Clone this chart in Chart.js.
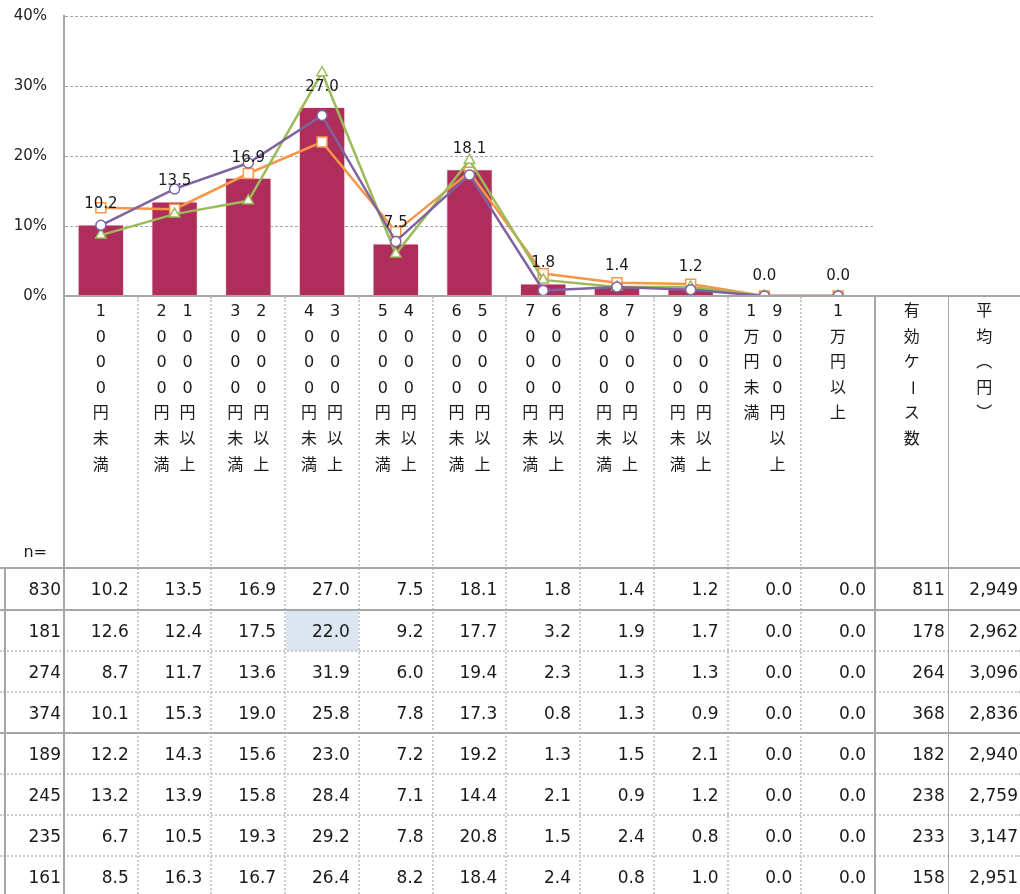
<!DOCTYPE html>
<html>
<head>
<meta charset="utf-8">
<script src="https://cdn.jsdelivr.net/npm/chart.js@4.4.1/dist/chart.umd.min.js"></script>
<style>
    html, body { margin: 0; padding: 0; background: #fff; overflow: hidden; }
    #wrap { position: relative; width: 1020px; height: 894px; font-family: "DejaVu Sans", "Noto Sans CJK JP", sans-serif; color: #1a1a1a; }
    #chartBox { position: absolute; left: 0; top: 0; width: 1020px; height: 330px; }
    #table { position: absolute; left: 0; top: 0; width: 1020px; height: 894px; pointer-events: none; }
    .num { font-size: 17px; text-align: right; box-sizing: border-box; }
    .hdr { display: flex; flex-direction: row-reverse; justify-content: center; }
    .hcol { width: 26px; display: flex; flex-direction: column; }
    .hch { height: 25.6px; line-height: 25.6px; text-align: center; font-size: 16px; }
    .rot { display: inline-block; transform: rotate(90deg); }
</style>
</head>
<body>
<div id="wrap">
    <div id="chartBox"><canvas id="priceChart" width="1020" height="330"></canvas></div>
    <div id="table"></div>
</div>
<script>
    // categories and header labels
    const categories = ['1000円未満', '1000円以上2000円未満', '2000円以上3000円未満', '3000円以上4000円未満',
        '4000円以上5000円未満', '5000円以上6000円未満', '6000円以上7000円未満', '7000円以上8000円未満',
        '8000円以上9000円未満', '9000円以上1万円未満', '1万円以上'];
    const extraHeaders = ['有効ケース数', '平均（円）'];

    // shares (%) per row of the table; first four rows are plotted
    const totalShares  = [10.2, 13.5, 16.9, 27.0, 7.5, 18.1, 1.8, 1.4, 1.2, 0.0, 0.0];
    const orangeShares = [12.6, 12.4, 17.5, 22.0, 9.2, 17.7, 3.2, 1.9, 1.7, 0.0, 0.0];
    const greenShares  = [8.7, 11.7, 13.6, 31.9, 6.0, 19.4, 2.3, 1.3, 1.3, 0.0, 0.0];
    const purpleShares = [10.1, 15.3, 19.0, 25.8, 7.8, 17.3, 0.8, 1.3, 0.9, 0.0, 0.0];
    const row5Shares   = [12.2, 14.3, 15.6, 23.0, 7.2, 19.2, 1.3, 1.5, 2.1, 0.0, 0.0];
    const row6Shares   = [13.2, 13.9, 15.8, 28.4, 7.1, 14.4, 2.1, 0.9, 1.2, 0.0, 0.0];
    const row7Shares   = [6.7, 10.5, 19.3, 29.2, 7.8, 20.8, 1.5, 2.4, 0.8, 0.0, 0.0];
    const row8Shares   = [8.5, 16.3, 16.7, 26.4, 8.2, 18.4, 2.4, 0.8, 1.0, 0.0, 0.0];

    const sampleSizes = [830, 181, 274, 374, 189, 245, 235, 161];
    const validCases  = [811, 178, 264, 368, 182, 238, 233, 158];
    const averageYen  = [2949, 2962, 3096, 2836, 2940, 2759, 3147, 2951];

    const yTicks = [0, 10, 20, 30, 40];

    // wanted plot box (px)
    const plotTop = 16, plotBottom = 296, plotLeft = 64, plotRight = 875;

    // labels over the bars
    const barLabels = {
        id: 'barLabels',
        afterDatasetsDraw(chart) {
            const meta = chart.getDatasetMeta(3);
            const ctx = chart.ctx;
            ctx.save();
            ctx.font = '15px "DejaVu Sans"';
            ctx.fillStyle = '#1a1a1a';
            ctx.textAlign = 'center';
            ctx.textBaseline = 'middle';
            meta.data.forEach((bar, i) => ctx.fillText(totalShares[i].toFixed(1), bar.x, bar.y - 20));
            ctx.restore();
        }
    };

    const lineStyle = color => ({
        type: 'line',
        borderColor: color,
        borderWidth: 2.5,
        pointBackgroundColor: '#fff',
        pointBorderColor: color,
        pointBorderWidth: 1.5,
        tension: 0
    });

    const ctx = document.getElementById('priceChart').getContext('2d');
    const chart = new Chart(ctx, {
        data: {
            labels: categories,
            datasets: [
                { ...lineStyle('#7F63A1'), data: purpleShares, pointStyle: 'circle', pointRadius: 5, order: 1 },
                { ...lineStyle('#9BBB59'), data: greenShares, pointStyle: 'triangle', pointRadius: 6, order: 2 },
                { ...lineStyle('#F79646'), data: orangeShares, pointStyle: 'rect', pointRadius: 7, order: 3 },
                {
                    type: 'bar',
                    data: totalShares,
                    backgroundColor: '#AE2D5A',
                    borderColor: 'rgba(255,220,235,0.7)',
                    borderWidth: 1,
                    barPercentage: 0.63,
                    categoryPercentage: 1,
                    order: 4
                }
            ]
        },
        options: {
            responsive: false,
            animation: false,
            layout: { padding: { left: 0, right: 1020 - plotRight, top: plotTop, bottom: 330 - plotBottom } },
            plugins: { legend: { display: false }, tooltip: { enabled: false } },
            scales: {
                x: { display: false },
                y: {
                    min: 0,
                    max: 40,
                    afterFit: s => { s.width = plotLeft; s.paddingTop = 0; s.paddingBottom = 0; },
                    afterBuildTicks: s => { s.ticks = yTicks.map(v => ({ value: v })); },
                    grid: { color: '#a6a6a6', lineWidth: 1, drawTicks: false },
                    border: { color: '#a6a6a6', width: 2, dash: [3, 2] },
                    ticks: {
                        padding: 17,
                        color: '#222',
                        font: { family: 'DejaVu Sans', size: 15 },
                        callback: v => v + '%'
                    }
                }
            }
        },
        plugins: [barLabels]
    });

    // nudge the padding so the plot box lands where the table expects it
    const pad = chart.options.layout.padding;
    pad.top += plotTop - chart.chartArea.top;
    pad.bottom += chart.chartArea.bottom - plotBottom;
    pad.right += chart.chartArea.right - plotRight;
    chart.update();

    // ---- table under the chart ----
    const overlay = document.getElementById('table');
    function box(css, html) {
        const d = document.createElement('div');
        d.style.cssText = 'position:absolute;' + css;
        if (html != null) d.innerHTML = html;
        overlay.appendChild(d);
        return d;
    }
    const area = chart.chartArea;
    const colW = (area.right - area.left) / categories.length;
    const edges = categories.map((c, i) => chart.scales.x.getPixelForValue(i) - colW / 2);
    edges.push(area.right, area.right + colW, 1020);

    const headTop = 297;
    const rowTops = [568, 610, 651, 692, 733, 774, 815, 856];
    const rowH = 41;
    const tableRows = [totalShares, orangeShares, greenShares, purpleShares, row5Shares, row6Shares, row7Shares, row8Shares];

    // highlighted cell
    box(`left:${edges[3] + 1}px;top:${rowTops[1] + 1}px;width:${edges[4] - edges[3] - 2}px;height:${rowTops[2] - rowTops[1] - 1}px;background:#dce6f0;`);

    // header texts
    const charHtml = ch => {
        if (ch === '（') return '︵';
        if (ch === '）') return '︶';
        if (ch === 'ー') return '<span class="rot">ー</span>';
        return ch;
    };
    categories.concat(extraHeaders).forEach((label, i) => {
        const cols = label.match(/.+?(未満|以上)/g) || [label];
        const cell = box(`left:${edges[i]}px;top:${headTop + 1}px;width:${edges[i + 1] - edges[i]}px;`);
        cell.className = 'hdr';
        cols.forEach(col => {
            const c = document.createElement('div');
            c.className = 'hcol';
            c.innerHTML = [...col].map(ch => `<div class="hch">${charHtml(ch)}</div>`).join('');
            cell.appendChild(c);
        });
    });
    box('left:0;top:539px;width:47px;height:26px;line-height:26px;text-align:right;font-size:16px;', 'n=');

    // body rows
    tableRows.forEach((row, r) => {
        const top = rowTops[r];
        const cellCss = (x0, x1, pad) =>
            `left:${x0}px;top:${top}px;width:${x1 - x0}px;height:${rowH}px;line-height:${rowH + 2}px;padding-right:${pad}px;`;
        box(cellCss(0, 64, 3), sampleSizes[r]).className = 'num';
        row.forEach((v, i) => { box(cellCss(edges[i], edges[i + 1], 9), v.toFixed(1)).className = 'num'; });
        box(cellCss(edges[11], edges[12], 4), validCases[r]).className = 'num';
        box(cellCss(edges[12], edges[13], 2), averageYen[r].toLocaleString('en-US')).className = 'num';
    });

    // grid lines
    const solid = '#a6a6a6';
    const hline = (y, x0, x1, dotted) => box(dotted
        ? `left:${x0}px;top:${y - 1}px;width:${x1 - x0}px;height:0;border-top:2px dotted #cacaca;`
        : `left:${x0}px;top:${y - 1}px;width:${x1 - x0}px;height:2px;background:${solid};`);
    const vline = (x, y0, y1, dotted, w) => box(dotted
        ? `left:${x - 1}px;top:${y0}px;width:0;height:${y1 - y0}px;border-left:2px dotted #cacaca;`
        : `left:${x - (w || 2) / 2}px;top:${y0}px;width:${w || 2}px;height:${y1 - y0}px;background:${solid};`);

    for (let i = 1; i < categories.length; i++) vline(edges[i], headTop, 894, true);
    hline(headTop - 1, area.left, 1020, false);
    rowTops.forEach((y, r) => hline(y, 0, 1020, !(r === 0 || r === 1 || r === 4)));
    vline(area.left, headTop - 2, 894, false);
    vline(5, rowTops[0], 894, false);
    vline(edges[11], headTop - 2, 894, false);
    vline(edges[12], headTop - 2, 894, false, 1.5);
</script>
</body>
</html>
